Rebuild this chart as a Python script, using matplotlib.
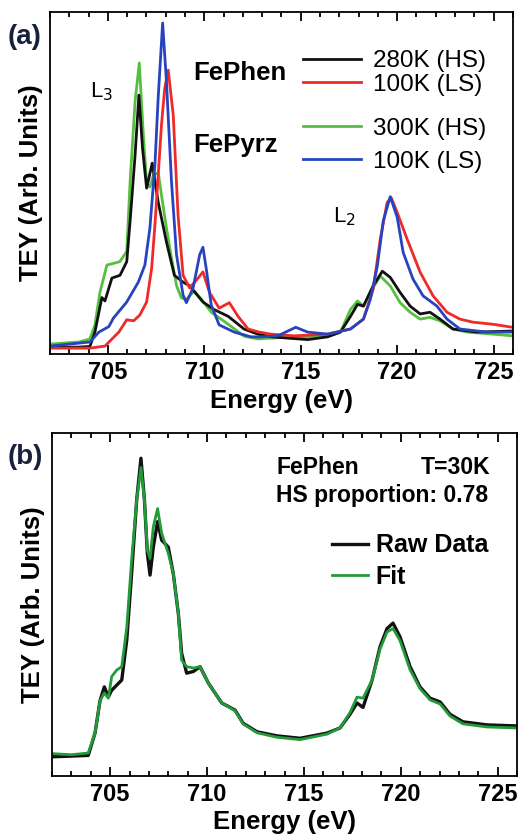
import matplotlib
matplotlib.use('Agg')
import matplotlib.pyplot as plt
from matplotlib.ticker import MultipleLocator

plt.rcParams['font.family'] = ['Liberation Sans', 'DejaVu Sans']

# ---- panel (a): Fe L2,3 edge, normalised TEY ----
e_phen_hs = [702.0, 703.5, 704.07, 704.33, 704.69, 704.85, 705.21, 705.63, 705.98, 706.15,
             706.41, 706.61, 706.8, 707.01, 707.30, 707.61, 708.04, 708.45, 708.90, 709.23,
             709.93, 710.5, 711.24, 712.06, 712.78, 713.5, 714.64, 715.36, 716.39, 717.06,
             717.58, 717.94, 718.25, 718.76, 719.23, 719.64, 720.15, 720.67, 721.19, 721.70,
             722.22, 722.89, 724.12, 725.98]
y_phen_hs = [0.02, 0.02, 0.022, 0.064, 0.165, 0.155, 0.222, 0.23, 0.27, 0.386,
             0.58, 0.757, 0.60, 0.485, 0.558, 0.444, 0.327, 0.23, 0.21, 0.2,
             0.152, 0.13, 0.11, 0.073, 0.058, 0.05, 0.045, 0.042, 0.05, 0.064,
             0.11, 0.145, 0.14, 0.2, 0.242, 0.224, 0.18, 0.14, 0.117, 0.122,
             0.102, 0.073, 0.064, 0.067]

e_phen_ls = [702.0, 704.07, 704.85, 705.57, 705.98, 706.34, 706.66, 707.01, 707.27, 707.44,
             707.61, 707.78, 707.95, 708.13, 708.39, 708.64, 708.90, 709.24, 709.68, 709.93,
             710.27, 710.77, 711.30, 711.75, 712.27, 712.84, 713.45, 714.64, 716.39, 717.58,
             718.25, 718.76, 719.12, 719.48, 719.69, 720.0, 720.52, 721.19, 721.86, 722.58,
             723.25, 723.92, 724.95, 725.98]
y_phen_ls = [0.017, 0.017, 0.023, 0.064, 0.1, 0.097, 0.114, 0.152, 0.25, 0.377,
             0.523, 0.67, 0.777, 0.83, 0.699, 0.406, 0.23, 0.193, 0.222, 0.24,
             0.18, 0.134, 0.15, 0.11, 0.073, 0.064, 0.058, 0.053, 0.058, 0.073,
             0.102, 0.19, 0.335, 0.443, 0.457, 0.414, 0.335, 0.239, 0.17, 0.122,
             0.102, 0.093, 0.087, 0.078]

e_pyrz_hs = [702.0, 703.5, 704.07, 704.33, 704.59, 704.95, 705.3, 705.62, 705.98, 706.15,
             706.41, 706.63, 706.84, 707.01, 707.18, 707.36, 707.61, 707.78, 708.04, 708.30,
             708.56, 708.81, 709.07, 709.48, 709.85, 710.36, 711.24, 712.06, 712.78, 714.64,
             716.39, 717.06, 717.58, 717.94, 718.25, 718.61, 719.12, 719.64, 720.15, 720.67,
             721.19, 721.70, 722.22, 722.89, 723.61, 724.95, 725.98]
y_pyrz_hs = [0.029, 0.035, 0.044, 0.085, 0.18, 0.26, 0.265, 0.27, 0.30, 0.50,
             0.737, 0.851, 0.64, 0.50, 0.488, 0.523, 0.53, 0.465, 0.368, 0.28,
             0.20, 0.164, 0.16, 0.184, 0.16, 0.122, 0.087, 0.052, 0.044, 0.05,
             0.052, 0.064, 0.13, 0.155, 0.14, 0.18, 0.228, 0.199, 0.15, 0.122,
             0.102, 0.107, 0.097, 0.073, 0.064, 0.058, 0.053]

e_pyrz_ls = [702.0, 704.07, 704.54, 705.05, 705.29, 705.98, 706.58, 706.92, 707.18, 707.44,
             707.61, 707.84, 708.04, 708.30, 708.56, 708.90, 709.07, 709.42, 709.76, 709.93,
             710.10, 710.36, 710.77, 711.55, 712.42, 712.94, 713.81, 714.33, 714.74, 715.36,
             716.39, 717.58, 718.25, 718.61, 718.97, 719.28, 719.64, 720.0, 720.31, 720.82,
             721.34, 722.06, 722.58, 723.25, 724.64, 725.98]
y_pyrz_ls = [0.023, 0.035, 0.064, 0.08, 0.105, 0.152, 0.21, 0.26, 0.368, 0.553,
             0.75, 0.968, 0.795, 0.503, 0.29, 0.172, 0.15, 0.193, 0.29, 0.312,
             0.25, 0.143, 0.085, 0.064, 0.05, 0.05, 0.053, 0.067, 0.078, 0.064,
             0.058, 0.073, 0.102, 0.16, 0.257, 0.39, 0.46, 0.40, 0.297, 0.219,
             0.17, 0.14, 0.102, 0.073, 0.064, 0.064]

# ---- panel (b): FePhen 30K raw data and fit ----
e_b = [702.05, 703.0, 703.87, 704.22, 704.48, 704.70, 704.91, 705.08, 705.34, 705.60,
       705.86, 706.11, 706.37, 706.59, 706.77, 706.92, 707.06, 707.23, 707.45, 707.66,
       708.0, 708.26, 708.52, 708.69, 708.95, 709.30, 709.64, 710.07, 710.76, 711.45,
       711.86, 712.58, 713.61, 714.80, 716.19, 716.86, 717.38, 717.74, 718.05, 718.52,
       718.93, 719.29, 719.60, 719.96, 720.48, 720.99, 721.51, 722.03, 722.54, 723.21,
       724.45, 726.0]
y_raw = [0.056, 0.058, 0.06, 0.125, 0.22, 0.26, 0.231, 0.25, 0.265, 0.28,
         0.397, 0.591, 0.805, 0.927, 0.805, 0.65, 0.586, 0.668, 0.742, 0.688,
         0.668, 0.59, 0.474, 0.358, 0.30, 0.305, 0.319, 0.271, 0.213, 0.192,
         0.154, 0.129, 0.117, 0.11, 0.125, 0.14, 0.18, 0.213, 0.2, 0.28,
         0.377, 0.43, 0.446, 0.406, 0.319, 0.26, 0.227, 0.216, 0.18, 0.158,
         0.149, 0.146]
y_fit = [0.065, 0.062, 0.067, 0.125, 0.22, 0.242, 0.227, 0.29, 0.309, 0.319,
         0.435, 0.63, 0.805, 0.90, 0.805, 0.659, 0.635, 0.727, 0.78, 0.708,
         0.65, 0.59, 0.474, 0.338, 0.319, 0.315, 0.319, 0.271, 0.213, 0.19,
         0.152, 0.126, 0.113, 0.106, 0.122, 0.14, 0.185, 0.23, 0.227, 0.28,
         0.37, 0.42, 0.43, 0.395, 0.31, 0.255, 0.222, 0.21, 0.175, 0.152,
         0.143, 0.14]

xticks = [705, 710, 715, 720, 725]

BLACK = '#111111'
RED = '#ee2b26'
GREEN = '#55c03e'
BLUE = '#2743c0'
FIT = '#239a3a'

fig = plt.figure(figsize=(5.19, 8.36), dpi=100)
ax1 = fig.add_axes([0.0963, 0.5766, 0.892, 0.409])
ax2 = fig.add_axes([0.1002, 0.0718, 0.896, 0.410])


def style_axis(ax):
    ax.set_xlim(702, 726)
    ax.set_ylim(0, 1)
    ax.set_xticks(xticks)
    ax.xaxis.set_minor_locator(MultipleLocator(1))
    ax.set_yticks([])
    ax.tick_params(axis='x', which='both', direction='in', top=True, width=1.3,
                   labelsize=17, pad=5)
    ax.tick_params(axis='x', which='major', length=6.5)
    ax.tick_params(axis='x', which='minor', length=3.5)
    for lab in ax.get_xticklabels():
        lab.set_fontweight('bold')
    for sp in ax.spines.values():
        sp.set_linewidth(1.3)
    ax.set_ylabel('TEY (Arb. Units)', fontsize=18.5, fontweight='bold', labelpad=5)


# panel (a)
l_g, = ax1.plot(e_pyrz_hs, y_pyrz_hs, color=GREEN, lw=2.0)
l_k, = ax1.plot(e_phen_hs, y_phen_hs, color=BLACK, lw=2.0)
l_r, = ax1.plot(e_phen_ls, y_phen_ls, color=RED, lw=2.0)
l_b, = ax1.plot(e_pyrz_ls, y_pyrz_ls, color=BLUE, lw=2.0)
style_axis(ax1)
ax1.set_xlabel('Energy (eV)', fontsize=18.5, fontweight='bold', labelpad=4)

leg1 = ax1.legend([l_k, l_r], ['280K (HS)', '100K (LS)'], loc='center left',
                  bbox_to_anchor=(0.546, 0.822), frameon=False, fontsize=17.5,
                  handlelength=2.4, handletextpad=0.5, labelspacing=0.07,
                  borderpad=0, borderaxespad=0)
ax1.add_artist(leg1)
ax1.legend([l_g, l_b], ['300K (HS)', '100K (LS)'], loc='center left',
           bbox_to_anchor=(0.546, 0.61), frameon=False, fontsize=17.5,
           handlelength=2.4, handletextpad=0.5, labelspacing=0.45,
           borderpad=0, borderaxespad=0)
ax1.text(0.309, 0.823, 'FePhen', transform=ax1.transAxes, fontsize=18.5,
         fontweight='bold', va='center', ha='left')
ax1.text(0.309, 0.61, 'FePyrz', transform=ax1.transAxes, fontsize=18.5,
         fontweight='bold', va='center', ha='left')
ax1.text(0.112, 0.768, r'L$_3$', transform=ax1.transAxes, fontsize=16,
         va='center', ha='center')
ax1.text(0.635, 0.40, r'L$_2$', transform=ax1.transAxes, fontsize=16,
         va='center', ha='center')

# panel (b)
l_raw, = ax2.plot(e_b, y_raw, color=BLACK, lw=2.4)
l_fit, = ax2.plot(e_b, y_fit, color=FIT, lw=2.0)
style_axis(ax2)
ax2.set_xlabel('Energy (eV)', fontsize=18.5, fontweight='bold', labelpad=3)
ax2.legend([l_raw, l_fit], ['Raw Data', 'Fit'], loc='center left',
           bbox_to_anchor=(0.602, 0.627), frameon=False,
           handlelength=1.45, handletextpad=0.3, labelspacing=0.3,
           borderpad=0, borderaxespad=0, prop={'weight': 'bold', 'size': 18})
ax2.text(0.482, 0.901, 'FePhen', transform=ax2.transAxes, fontsize=16.5,
         fontweight='bold', va='center', ha='left')
ax2.text(0.942, 0.901, 'T=30K', transform=ax2.transAxes, fontsize=16.5,
         fontweight='bold', va='center', ha='right')
ax2.text(0.482, 0.819, 'HS proportion: 0.78', transform=ax2.transAxes, fontsize=16.5,
         fontweight='bold', va='center', ha='left')

fig.text(0.015, 0.956, '(a)', fontsize=20, fontweight='bold', color='#16223c',
         va='center', ha='left')
fig.text(0.015, 0.453, '(b)', fontsize=20, fontweight='bold', color='#16223c',
         va='center', ha='left')

fig.savefig('out.png', dpi=100)
